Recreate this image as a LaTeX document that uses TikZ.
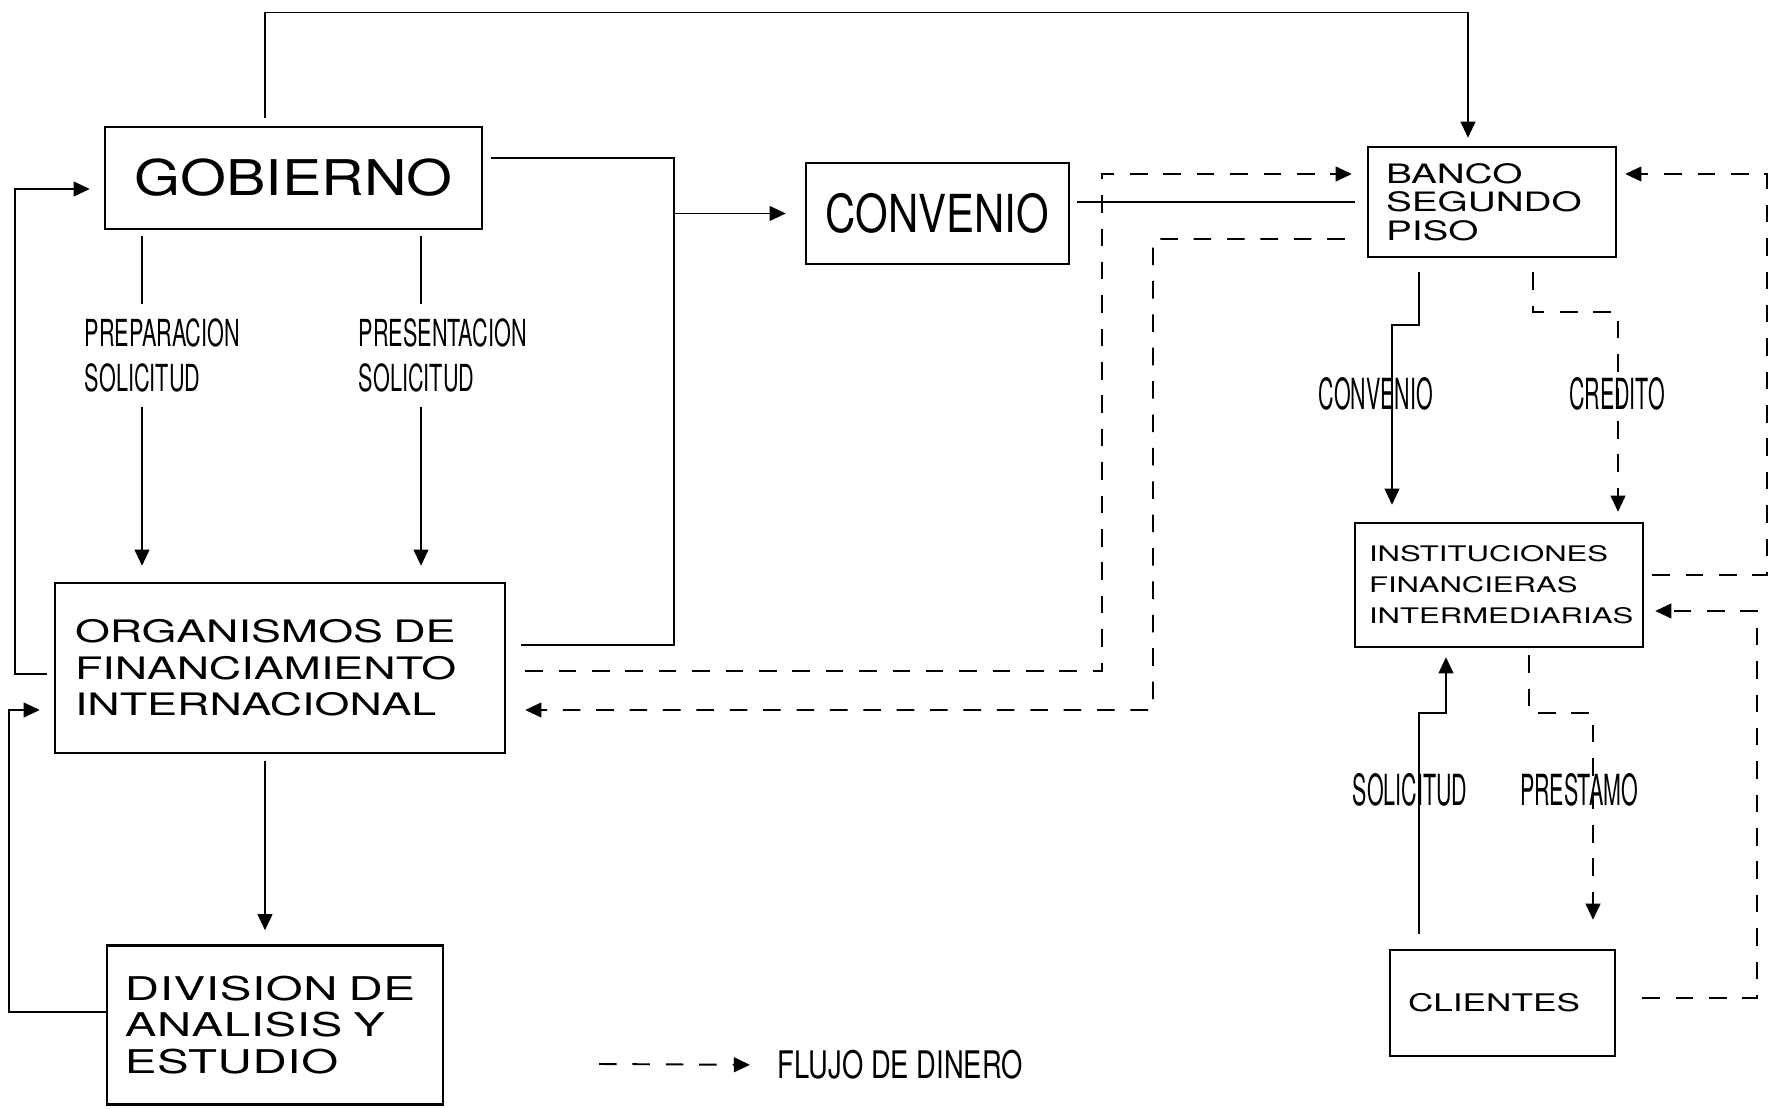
\documentclass[tikz,border=0pt]{standalone}
\usepackage{fontspec}
\setmainfont{TeX Gyre Heros}
\newfontfamily\titlefont[FakeStretch=1.2]{TeX Gyre Heros}
\newfontfamily\boxfont[FakeStretch=1.45]{TeX Gyre Heros}
\newfontfamily\convfont[FakeStretch=0.8]{TeX Gyre Heros}
\newfontfamily\lblfont[FakeStretch=0.58]{TeX Gyre Heros}
\newfontfamily\tallfont[FakeStretch=0.5]{TeX Gyre Heros}
\newfontfamily\legfont[FakeStretch=0.72]{TeX Gyre Heros}
\usetikzlibrary{arrows.meta}

\begin{document}
\begin{tikzpicture}[>={Triangle[length=4.6pt,width=4.2pt]}, line width=0.55pt,
  box/.style={draw, line width=0.7pt, inner sep=0pt, align=left},
  flow/.style={dash pattern=on 5pt off 4.5pt},
  lbl/.style={inner sep=0pt, align=left, anchor=west,
              font=\lblfont\fontsize{10.6}{12.8}\selectfont},
  tlbl/.style={inner sep=0pt, font=\tallfont\fontsize{12.2}{14}\selectfont}]
  \useasboundingbox (0,0) rectangle (17.83,-11.09);

  % boxes
  \node[box, align=center, minimum width=3.77cm, minimum height=1.02cm,
        font=\titlefont\fontsize{14}{16}\selectfont] (gob) at (2.935,-1.78) {GOBIERNO};
  \node[box, align=center, minimum width=2.63cm, minimum height=1.01cm,
        font=\convfont\fontsize{14.9}{17}\selectfont] (conv) at (9.375,-2.135) {CONVENIO};
  \node[box, minimum width=2.48cm, minimum height=1.10cm, inner xsep=0.18cm, text width=2.12cm,
        font=\boxfont\fontsize{7.6}{8.1}\selectfont] (banco) at (14.92,-2.02) {BANCO\\SEGUNDO\\PISO};
  \node[box, minimum width=4.50cm, minimum height=1.70cm, inner xsep=0.20cm, text width=4.10cm,
        font=\boxfont\fontsize{8.8}{10.4}\selectfont] (org) at (2.80,-6.68)
        {ORGANISMOS DE\\FINANCIAMIENTO\\INTERNACIONAL};
  \node[box, minimum width=2.88cm, minimum height=1.24cm, inner xsep=0.14cm, text width=2.60cm,
        font=\boxfont\fontsize{6.1}{8.8}\selectfont] (inst) at (14.99,-5.85)
        {INSTITUCIONES\\FINANCIERAS\\INTERMEDIARIAS};
  \node[box, minimum width=2.25cm, minimum height=1.06cm, inner xsep=0.18cm, text width=1.89cm,
        font=\boxfont\fontsize{6.9}{8}\selectfont] (cli) at (15.025,-10.03) {CLIENTES};
  \node[box, minimum width=3.36cm, minimum height=1.59cm, inner xsep=0.18cm, text width=3.00cm,
        font={\boxfont\addfontfeature{LetterSpace=2}\fontsize{9.3}{10.4}\selectfont}] (div) at (2.75,-10.25)
        {DIVISION DE\\ANALISIS Y\\ESTUDIO};

  % labels
  \node[lbl] (prep) at (0.84,-3.55) {PREPARACION\\SOLICITUD};
  \node[lbl] (pres) at (3.58,-3.55) {PRESENTACION\\SOLICITUD};
  \node[tlbl] (lconv) at (13.76,-3.935) {CONVENIO};
  \node[tlbl] (lcred) at (16.17,-3.935) {CREDITO};
  \node[tlbl] (lsol) at (14.10,-7.90) {SOLICITUD};
  \node[tlbl] (lprest) at (15.79,-7.90) {PRESTAMO};
  \node[inner sep=0pt, anchor=west, font=\legfont\fontsize{10.8}{13}\selectfont] (legend)
        at (7.77,-10.65) {FLUJO DE DINERO};

  \coordinate (topline) at (2.65,-0.125);
  \coordinate (split) at (6.74,-2.135);
  \coordinate (prepx) at (1.42,0);
  \coordinate (presx) at (4.21,0);
  \coordinate (cvbend) at (14.19,-3.25);
  \coordinate (cvdown) at (13.92,-3.25);
  \coordinate (crbend) at (15.33,-3.12);
  \coordinate (crright) at (16.18,-3.12);
  \coordinate (solbend) at (14.19,-7.13);
  \coordinate (solup) at (14.46,-7.13);
  \coordinate (prbend) at (15.29,-7.13);
  \coordinate (prright) at (15.93,-7.13);
  \coordinate (legstart) at (5.99,-10.64);

  % solid connectors
  \draw[->, shorten <=0.08cm, shorten >=0.08cm] (gob.north -| topline) -- (topline)
    -| ([xshift=-0.24cm]banco.north);
  \draw[shorten <=0.08cm, shorten >=0.15cm] ([yshift=0.2cm]gob.east) -| (split)
    |- ([yshift=0.23cm]org.east);
  \draw[->, shorten >=0.19cm] (split) -- (conv.west);
  \draw[shorten <=0.07cm, shorten >=0.12cm] (conv.east |- banco.west) -- (banco.west);
  \draw[shorten <=0.06cm, shorten >=0.13cm] (gob.south -| prepx) -- (prep.north -| prepx);
  \draw[->, shorten <=0.14cm, shorten >=0.16cm] (prep.south -| prepx) -- (org.north -| prepx);
  \draw[shorten <=0.06cm, shorten >=0.13cm] (gob.south -| presx) -- (pres.north -| presx);
  \draw[->, shorten <=0.14cm, shorten >=0.16cm] (pres.south -| presx) -- (org.north -| presx);
  \draw[->, shorten <=0.07cm, shorten >=0.14cm] ([yshift=-0.06cm]org.west) -| (0.15,-1.89)
    -- ([yshift=-0.11cm]gob.west);
  \draw[->, shorten >=0.14cm] ([yshift=0.13cm]div.west) -| (0.09,-7.10)
    -- ([yshift=-0.42cm]org.west);
  \draw[->, shorten <=0.07cm, shorten >=0.14cm] ([xshift=-0.15cm]org.south) -- ([xshift=-0.10cm]div.north);
  \draw[->, shorten <=0.14cm, shorten >=0.17cm] (banco.south -| cvbend) -- (cvbend) -- (cvdown)
    -- (inst.north -| cvdown);
  \draw[->, shorten <=0.15cm, shorten >=0.09cm] (cli.north -| solbend) -- (solbend) -- (solup)
    -- (inst.south -| solup);

  % money flow
  \draw[flow, ->, shorten <=0.19cm, shorten >=0.15cm] ([yshift=-0.03cm]org.east) -| (11.02,-1.74)
    -- ([yshift=0.28cm]banco.west);
  \draw[flow, ->, shorten <=0.22cm, shorten >=0.19cm] ([yshift=-0.37cm]banco.west) -| (11.53,-7.10)
    -- ([yshift=-0.42cm]org.east);
  \draw[flow, ->, shorten <=0.14cm, shorten >=0.10cm] (banco.south -| crbend) -- (crbend) -- (crright)
    -- (inst.north -| crright);
  \draw[flow, ->, shorten <=0.08cm, shorten >=0.08cm] ([yshift=0.1cm]inst.east) -| (17.67,-1.74)
    -- ([yshift=0.28cm]banco.east);
  \draw[flow, ->, shorten <=0.26cm, shorten >=0.11cm] ([yshift=0.05cm]cli.east) -| (17.57,-6.11)
    -- ([yshift=-0.26cm]inst.east);
  \draw[flow, ->, shorten <=0.07cm, shorten >=0.29cm] (inst.south -| prbend) -- (prbend) -- (prright)
    -- (cli.north -| prright);
  \draw[flow, ->, shorten >=0.27cm] (legstart) -- (legend.west);
\end{tikzpicture}
\end{document}
